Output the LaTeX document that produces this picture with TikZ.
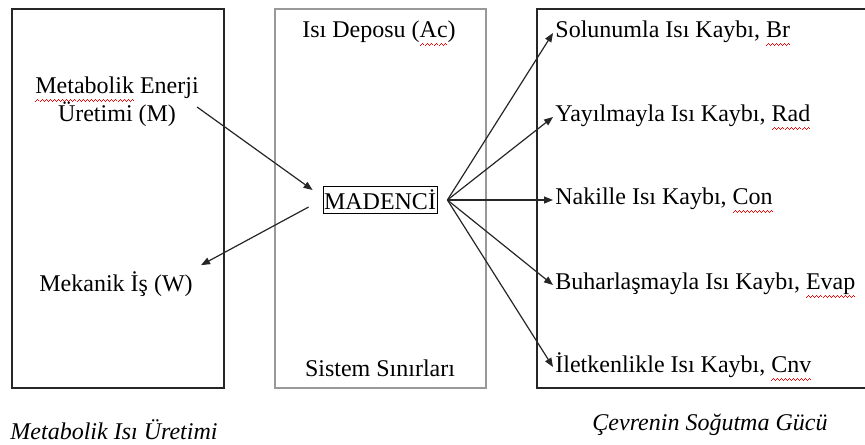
\documentclass[tikz,border=0pt]{standalone}
\usepackage{fontspec}
\setmainfont{Liberation Serif}
\usetikzlibrary{arrows.meta,positioning}
% red spell-check squiggle under a word (made of tiny rules)
\newcommand{\mnrzig}{\hbox{\rule[-4.2pt]{0.5pt}{0.45pt}\rule[-3.75pt]{0.5pt}{0.45pt}\rule[-3.3pt]{0.5pt}{0.45pt}\rule[-3.75pt]{0.5pt}{0.45pt}}}
\newcommand{\spell}[1]{\setbox0\hbox{#1}\rlap{\color{red}\hbox to \wd0{\xleaders\mnrzig\hfil}}\box0\relax}
\tikzset{
  mnrbox/.style={draw=black!85,line width=0.8pt},
  mnrsys/.style={draw=black!40,line width=0.8pt},
  mnrtext/.style={font=\fontsize{12}{14}\selectfont,inner sep=1pt,align=center},
  mnrcap/.style={font=\fontsize{12}{14}\selectfont\itshape,inner sep=0pt},
  mnrflow/.style={-{Triangle[length=4.5pt,width=3.5pt]},line width=0.6pt,black!85},
}
\begin{document}
\begin{tikzpicture}[x=0.5pt,y=-0.5pt]
\useasboundingbox (0,0) rectangle (865,444);
% the three panels
\draw[mnrbox] (12,9) rectangle (224,388);
\draw[mnrsys] (275,9) rectangle (486,388);
\draw[mnrbox] (537,9) rectangle (880,388);
% heat production side
\node[mnrtext] (met) at (117,102) {\spell{Metabolik} Enerji\\Üretimi (M)};
\node[mnrtext] (work) at (116,284) {Mekanik İş (W)};
% system boundary
\node[mnrtext] (store) at (379,33) {Isı Deposu (\spell{Ac})};
\node[mnrtext] (bound) at (380,368) {Sistem Sınırları};
\node[mnrtext,draw,inner sep=0.5pt,minimum height=13.5pt] (mad) at (380,200) {MADENCİ};
% cooling side
\node[mnrtext,anchor=west] (br) at (553,33) {Solunumla Isı Kaybı, \spell{Br}};
\node[mnrtext,anchor=west] (rad) at (553,117) {Yayılmayla Isı Kaybı, \spell{Rad}};
\node[mnrtext,anchor=west] (con) at (553,200) {Nakille Isı Kaybı, \spell{Con}};
\node[mnrtext,anchor=west] (evap) at (553,285) {Buharlaşmayla Isı Kaybı, \spell{Evap}};
\node[mnrtext,anchor=west] (cnv) at (553,367) {İletkenlikle Isı Kaybı, \spell{Cnv}};
% captions
\node[mnrcap] (capl) at (114,430) {Metabolik Isı Üretimi};
\node[mnrcap] (capr) at (710,425) {Çevrenin Soğutma Gücü};
% flows
\coordinate (madin) at ([xshift=-5pt,yshift=5pt]mad.west);
\coordinate (madout) at ([xshift=-7pt,yshift=-3.5pt]mad.west);
\coordinate (fan) at ([xshift=5pt]mad.east);
\draw[mnrflow] ([xshift=-2pt,yshift=-2.5pt]met.east) -- (madin);
\draw[mnrflow] (madout) -- ([xshift=3pt,yshift=2pt]work.north east);
\foreach \t in {br,rad,con,evap,cnv}
  \draw[mnrflow] (fan) -- (\t.west);
\end{tikzpicture}
\end{document}
